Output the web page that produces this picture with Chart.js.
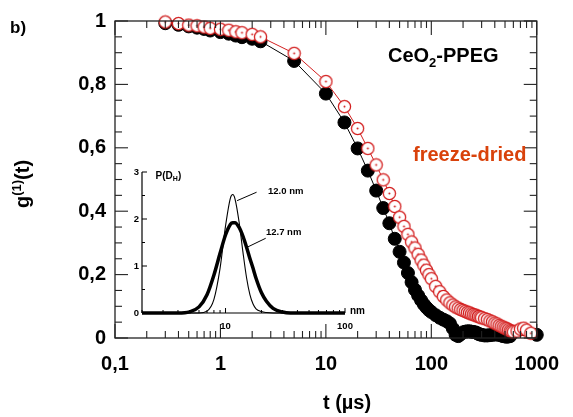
<!DOCTYPE html>
<html>
<head>
<meta charset="utf-8">
<script src="https://cdn.jsdelivr.net/npm/chart.js@4.4.1/dist/chart.umd.min.js"></script>
<style>
  body { margin: 0; background: #fff; }
  #wrap { position: relative; width: 573px; height: 417px; }
  #main { position: absolute; left: 0; top: 0; }
  #inset { position: absolute; left: 125px; top: 160px; }
</style>
</head>
<body>
<div id="wrap">
  <canvas id="main" width="573" height="417"></canvas>
  <canvas id="inset" width="250" height="180"></canvas>
</div>
<script>
// ---- correlation data (t in µs) ----
const tFreezeDried = [0.3, 0.4, 0.5, 0.6, 0.7, 0.8, 1.0, 1.2, 1.4, 1.6, 2.0, 2.4,
  5, 10, 15, 20, 25, 30, 35, 40, 45, 50, 55, 60, 65, 70, 75, 80, 85, 90, 95, 100,
  110, 120, 130, 140, 150, 160, 170, 180, 190, 200, 210, 220, 230, 240, 250, 260, 270, 280, 290, 300,
  320, 340, 360, 380, 400, 420, 440, 460, 480, 500, 520, 540, 560, 580, 600,
  650, 700, 750, 800, 880];
const gFreezeDried = [0.997, 0.992, 0.987, 0.985, 0.981, 0.977, 0.974, 0.971, 0.966, 0.963, 0.958, 0.950,
  0.898, 0.809, 0.730, 0.661, 0.598, 0.546, 0.499, 0.456, 0.415, 0.381, 0.352, 0.327, 0.303, 0.284, 0.264, 0.246, 0.230, 0.214, 0.200, 0.187,
  0.163, 0.146, 0.131, 0.120, 0.111, 0.104, 0.098, 0.094, 0.090, 0.087, 0.084, 0.081, 0.079, 0.076, 0.074, 0.072, 0.070, 0.068, 0.066, 0.064,
  0.061, 0.058, 0.054, 0.051, 0.047, 0.044, 0.040, 0.037, 0.034, 0.031, 0.029, 0.026, 0.023, 0.021, 0.019,
  0.022, 0.028, 0.031, 0.025, 0.015];

const tColloid = [0.3, 0.4, 0.5, 0.6, 0.7, 0.8, 1.0, 1.2, 1.4, 1.6, 2.0, 2.4,
  5, 10, 15, 20, 25, 30, 35, 40, 45, 50, 55, 60, 65, 70, 75, 80, 85, 90, 95, 100,
  110, 120, 130, 140, 150, 160, 170, 180, 190, 200, 210, 220, 230, 240, 250, 260, 270, 280, 290, 300,
  320, 340, 360, 380, 400, 420, 440, 460, 480, 500, 520, 540, 560, 1000];
const gColloid = [0.993, 0.988, 0.983, 0.979, 0.975, 0.970, 0.965, 0.960, 0.954, 0.949, 0.944, 0.936,
  0.874, 0.771, 0.680, 0.598, 0.528, 0.465, 0.410, 0.362, 0.313, 0.272, 0.238, 0.205, 0.176, 0.152, 0.134, 0.119, 0.106, 0.096, 0.088, 0.082,
  0.072, 0.064, 0.058, 0.053, 0.046, 0.030, 0.010, 0.006, 0.012, 0.018, 0.020, 0.021, 0.021, 0.020, 0.019, 0.018, 0.016, 0.013, 0.011, 0.010,
  0.008, 0.008, 0.009, 0.010, 0.011, 0.011, 0.010, 0.008, 0.006, 0.005, 0.004, 0.005, 0.006, 0.010];

const xTickLabels = {0.1: '0,1', 1: '1', 10: '10', 100: '100', 1000: '1000'};

// ---- inset: size distribution P(D_H), D in nm ----
const dNm = [2, 3, 4, 5, 6, 7, 8, 9, 10, 11, 11.5, 12, 13, 14, 15, 16, 17, 18, 20, 22, 25, 30, 35, 40, 60, 100];
const pThin = [0, 0, 0, 0, 0, 0.04, 0.29, 0.95, 1.85, 2.45, 2.52, 2.43, 1.93, 1.29, 0.75, 0.39, 0.19, 0.09, 0.03, 0.01, 0, 0, 0, 0, 0, 0];
const pThick = [0, 0, 0, 0.025, 0.13, 0.39, 0.81, 1.27, 1.66, 1.89, 1.92, 1.92, 1.82, 1.63, 1.40, 1.16, 0.95, 0.74, 0.43, 0.25, 0.10, 0.02, 0, 0, 0, 0];
const insetXLabels = {10: '10', 100: '100'};
// leader lines + peak labels, in data units [D, P]
const peakNotes = [
  {text: '12.0 nm', from: [12.5, 2.39], to: [18.2, 2.57], at: [22.7, 2.58]},
  {text: '12.7 nm', from: [15.2, 1.40], to: [21.7, 1.59], at: [21.8, 1.71]}
];

const FONT = "'Liberation Sans', Arial, sans-serif";
Chart.defaults.font.family = FONT;

// open red circle with a centre dot
function dotCircle() {
  const c = document.createElement('canvas');
  c.width = 15; c.height = 15;
  const g = c.getContext('2d');
  g.beginPath();
  g.arc(7.5, 7.5, 6.1, 0, Math.PI * 2);
  g.fillStyle = '#fff';
  g.fill();
  g.lineWidth = 1.3;
  g.strokeStyle = '#d31f1f';
  g.stroke();
  g.beginPath();
  g.arc(7.5, 7.5, 1, 0, Math.PI * 2);
  g.fillStyle = '#d31f1f';
  g.fill();
  return c;
}

function logTickValues(min, max) {
  const out = [];
  for (let e = Math.floor(Math.log10(min)); e <= Math.ceil(Math.log10(max)); e++) {
    for (let k = 1; k <= 9; k++) {
      const v = k * Math.pow(10, e);
      if (v >= min * 0.999 && v <= max * 1.001) out.push({v, major: k === 1});
    }
  }
  return out;
}

function line(ctx, x1, y1, x2, y2) {
  ctx.beginPath();
  ctx.moveTo(x1, y1);
  ctx.lineTo(x2, y2);
  ctx.stroke();
}

const mainDecor = {
  id: 'mainDecor',
  afterDatasetsDraw(chart) {
    const {ctx, chartArea: a, scales: {x, y}} = chart;
    ctx.save();
    ctx.strokeStyle = '#222';
    ctx.lineWidth = 1.3;
    ctx.strokeRect(a.left, a.top, a.right - a.left, a.bottom - a.top);
    ctx.lineWidth = 1.1;
    for (let i = 0; i <= 20; i++) {
      const py = y.getPixelForValue(i / 20);
      const len = i % 4 === 0 ? 13 : 7;
      line(ctx, a.left, py, a.left + len, py);
      line(ctx, a.right, py, a.right - len, py);
    }
    logTickValues(0.1, 1000).forEach(t => {
      const px = x.getPixelForValue(t.v);
      const len = t.major ? 14 : 7;
      line(ctx, px, a.bottom, px, a.bottom - len);
      line(ctx, px, a.top, px, a.top + len);
    });

    ctx.fillStyle = '#000';
    ctx.textBaseline = 'alphabetic';
    ctx.font = 'bold 17px ' + FONT;
    ctx.fillText('b)', 10, 33);

    // x title
    ctx.font = 'bold 20px ' + FONT;
    ctx.textAlign = 'center';
    ctx.fillText('t (µs)', 347, 409);

    // y title g(1)(t)
    ctx.save();
    ctx.translate(29, 184);
    ctx.rotate(-Math.PI / 2);
    ctx.textAlign = 'left';
    const big = 'bold 20px ' + FONT, small = 'bold 13px ' + FONT;
    ctx.font = big; const w1 = ctx.measureText('g').width;
    ctx.font = small; const w2 = ctx.measureText('(1)').width;
    ctx.font = big; const w3 = ctx.measureText('(t)').width;
    let cx = -(w1 + w2 + w3) / 2;
    ctx.fillText('g', cx, 0); cx += w1;
    ctx.font = small; ctx.fillText('(1)', cx, -8); cx += w2;
    ctx.font = big; ctx.fillText('(t)', cx, 0);
    ctx.restore();

    // sample label CeO2-PPEG
    ctx.textAlign = 'left';
    let lx = 388;
    ctx.font = 'bold 20px ' + FONT;
    ctx.fillText('CeO', lx, 62); lx += ctx.measureText('CeO').width;
    ctx.font = 'bold 13px ' + FONT;
    ctx.fillText('2', lx, 67); lx += ctx.measureText('2').width;
    ctx.font = 'bold 20px ' + FONT;
    ctx.fillText('-PPEG', lx, 62);

    ctx.fillStyle = '#d9420b';
    ctx.fillText('freeze-dried', 413, 161);
    ctx.restore();
  }
};

new Chart(document.getElementById('main'), {
  type: 'line',
  data: {
    datasets: [
      {
        label: 'freeze-dried',
        data: tFreezeDried.map((t, i) => ({x: t, y: gFreezeDried[i]})),
        borderColor: '#d31f1f',
        borderWidth: 1,
        pointStyle: dotCircle(),
        pointRadius: 7,
        clip: false,
        order: 1
      },
      {
        label: 'colloid',
        data: tColloid.map((t, i) => ({x: t, y: gColloid[i]})),
        borderColor: '#000',
        borderWidth: 1,
        pointStyle: 'circle',
        pointRadius: 6.5,
        pointBackgroundColor: '#000',
        pointBorderColor: '#000',
        pointBorderWidth: 1,
        clip: false,
        order: 2
      }
    ]
  },
  options: {
    responsive: false,
    devicePixelRatio: 1,
    animation: false,
    layout: {padding: {top: 20, right: 22, left: 0, bottom: 0}},
    plugins: {legend: {display: false}, tooltip: {enabled: false}},
    scales: {
      x: {
        type: 'logarithmic',
        min: 0.1,
        max: 1000,
        grid: {display: false, drawTicks: false},
        border: {display: false},
        afterFit: s => { s.height = 79; },
        ticks: {
          autoSkip: false,
          maxRotation: 0,
          padding: 14,
          color: '#000',
          font: {size: 20, weight: 'bold'},
          callback: v => xTickLabels[v] || ''
        }
      },
      y: {
        min: 0,
        max: 1,
        grid: {display: false, drawTicks: false},
        border: {display: false},
        afterFit: s => { s.width = 115; },
        ticks: {
          stepSize: 0.2,
          padding: 9,
          color: '#000',
          font: {size: 20, weight: 'bold'},
          callback: v => String(Math.round(v * 10) / 10).replace('.', ',')
        }
      }
    }
  },
  plugins: [mainDecor]
});

const insetDecor = {
  id: 'insetDecor',
  afterDatasetsDraw(chart) {
    const {ctx, chartArea: a, scales: {x, y}} = chart;
    ctx.save();
    ctx.strokeStyle = '#000';
    ctx.lineWidth = 1.2;
    line(ctx, a.left, a.bottom, a.left, a.top);
    line(ctx, a.left, a.bottom, a.right, a.bottom);
    ctx.lineWidth = 1;
    for (let i = 0; i <= 6; i++) {
      const py = y.getPixelForValue(i / 2);
      line(ctx, a.left, py, a.left + (i % 2 === 0 ? 5 : 3), py);
    }
    logTickValues(2, 100).forEach(t => {
      const px = x.getPixelForValue(t.v);
      line(ctx, px, a.bottom, px, a.bottom - (t.major ? 5 : 3));
    });

    ctx.fillStyle = '#000';
    ctx.font = 'bold 10px ' + FONT;
    ctx.textBaseline = 'middle';
    ctx.fillText('nm', a.right + 5, a.bottom - 2);

    // P(D_H)
    let px = x.getPixelForValue(2.6);
    const py = y.getPixelForValue(2.91);
    ctx.fillText('P(D', px, py); px += ctx.measureText('P(D').width;
    ctx.font = 'bold 7px ' + FONT;
    ctx.fillText('H', px, py + 3); px += ctx.measureText('H').width;
    ctx.font = 'bold 10px ' + FONT;
    ctx.fillText(')', px, py);

    ctx.font = 'bold 9.5px ' + FONT;
    peakNotes.forEach(n => {
      line(ctx, x.getPixelForValue(n.from[0]), y.getPixelForValue(n.from[1]),
        x.getPixelForValue(n.to[0]), y.getPixelForValue(n.to[1]));
      ctx.fillText(n.text, x.getPixelForValue(n.at[0]), y.getPixelForValue(n.at[1]));
    });
    ctx.restore();
  }
};

new Chart(document.getElementById('inset'), {
  type: 'line',
  data: {
    datasets: [
      {
        data: dNm.map((d, i) => ({x: d, y: pThick[i]})),
        borderColor: '#000',
        borderWidth: 3.5,
        pointRadius: 0,
        cubicInterpolationMode: 'monotone',
        clip: false
      },
      {
        data: dNm.map((d, i) => ({x: d, y: pThin[i]})),
        borderColor: '#000',
        borderWidth: 1.1,
        pointRadius: 0,
        cubicInterpolationMode: 'monotone',
        clip: false
      }
    ]
  },
  options: {
    responsive: false,
    devicePixelRatio: 1,
    animation: false,
    layout: {padding: {top: 12, right: 30, left: 0, bottom: 0}},
    plugins: {legend: {display: false}, tooltip: {enabled: false}},
    scales: {
      x: {
        type: 'logarithmic',
        min: 2,
        max: 100,
        grid: {display: false, drawTicks: false},
        border: {display: false},
        afterFit: s => { s.height = 27; },
        ticks: {
          autoSkip: false,
          maxRotation: 0,
          padding: 8,
          color: '#000',
          font: {size: 9.5, weight: 'bold'},
          callback: v => insetXLabels[v] || ''
        }
      },
      y: {
        min: 0,
        max: 3,
        grid: {display: false, drawTicks: false},
        border: {display: false},
        afterFit: s => { s.width = 17; },
        ticks: {
          stepSize: 1,
          padding: 3,
          color: '#000',
          font: {size: 9.5, weight: 'bold'}
        }
      }
    }
  },
  plugins: [insetDecor]
});
</script>
</body>
</html>
